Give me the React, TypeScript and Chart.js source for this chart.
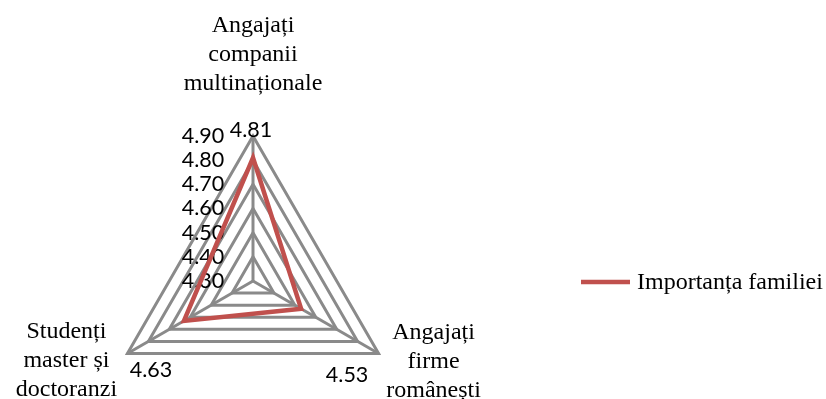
import React, { useEffect, useRef } from "react";
import { Chart, registerables, RadialLinearScale } from "chart.js";

Chart.register(...registerables);

// Axis categories, each split into the lines it is printed on
const categories: string[][] = [
  ["Angajați", "companii", "multinaționale"],
  ["Angajați", "firme", "românești"],
  ["Studenți", "master și", "doctoranzi"],
];
const seriesName = "Importanța familiei";
const familyImportance: number[] = [4.81, 4.53, 4.63];

const scaleMin = 4.3;
const scaleMax = 4.9;
const scaleStep = 0.1;

const GRID_COLOR = "#8a8a8a";
const SERIES_COLOR = "#C0504D";
const SERIF = "'Liberation Serif', 'Times New Roman', serif";
const SANS = "Lato, 'Open Sans', sans-serif";
const TICK_FONT_SIZE = 21.5;

const VIEW_W = 826;
const VIEW_H = 399;
const CANVAS_H = 440;

const TICK_SHIFT_X = -50;
const LINE_GAP = 29;

// Where each category caption sits relative to its outer vertex (first baseline)
const captionOffsets = [
  { dx: 0, dy: -104 },
  { dx: 55, dy: -14.5 },
  { dx: -61, dy: -15.5 },
];
// Where each value label sits relative to its outer vertex (text middle)
const valueOffsets = [
  { dx: -2, dy: -6 },
  { dx: -31.5, dy: 21.5 },
  { dx: 23.5, dy: 16.5 },
];

// Radial scale whose tick labels are printed to the left of the vertical axis,
// including the one at the centre
class SideTickRadialScale extends RadialLinearScale {
  static id = "radialSideTicks";
  static defaults = RadialLinearScale.defaults;
  drawLabels() {
    const ctx = this.ctx;
    const tickOpts: any = this.options.ticks;
    ctx.save();
    ctx.font = `${TICK_FONT_SIZE}px ${SANS}`;
    ctx.fillStyle = tickOpts.color;
    ctx.textAlign = "center";
    ctx.textBaseline = "middle";
    this.ticks.forEach((tick: any) => {
      const d = this.getDistanceFromCenterForValue(tick.value);
      ctx.fillText(tick.label, this.xCenter + TICK_SHIFT_X, this.yCenter - d);
    });
    ctx.restore();
  }
}
Chart.register(SideTickRadialScale);

const annotationsPlugin = {
  id: "radarAnnotations",
  afterDraw(chart: any) {
    const scale = chart.scales.r;
    const ctx: CanvasRenderingContext2D = chart.ctx;
    ctx.save();
    ctx.fillStyle = "#000";

    // category captions
    ctx.font = `24px ${SERIF}`;
    ctx.textAlign = "center";
    ctx.textBaseline = "alphabetic";
    categories.forEach((lines, i) => {
      const p = scale.getPointPosition(i, scale.drawingArea);
      const off = captionOffsets[i];
      lines.forEach((line, k) => {
        ctx.fillText(line, p.x + off.dx, p.y + off.dy + k * LINE_GAP);
      });
    });

    // value labels
    ctx.font = `${TICK_FONT_SIZE}px ${SANS}`;
    ctx.textBaseline = "middle";
    familyImportance.forEach((v, i) => {
      const p = scale.getPointPosition(i, scale.drawingArea);
      const off = valueOffsets[i];
      ctx.fillText(v.toFixed(2), p.x + off.dx, p.y + off.dy);
    });

    // legend
    const lx = 581;
    const ly = 282;
    ctx.strokeStyle = SERIES_COLOR;
    ctx.lineWidth = 4.5;
    ctx.lineCap = "butt";
    ctx.beginPath();
    ctx.moveTo(lx, ly);
    ctx.lineTo(lx + 49, ly);
    ctx.stroke();
    ctx.font = `24px ${SERIF}`;
    ctx.textAlign = "left";
    ctx.textBaseline = "alphabetic";
    ctx.fillText(seriesName, lx + 56, ly + 7);

    ctx.restore();
  },
};

export default function App() {
  const canvasRef = useRef<HTMLCanvasElement | null>(null);

  useEffect(() => {
    const canvas = canvasRef.current;
    if (!canvas) return;
    const chart = new Chart(canvas, {
      type: "radar",
      data: {
        labels: categories,
        datasets: [
          {
            label: seriesName,
            data: familyImportance,
            borderColor: SERIES_COLOR,
            backgroundColor: "transparent",
            borderWidth: 4.5,
            fill: false,
            pointRadius: 0,
            pointHoverRadius: 0,
            tension: 0,
          },
        ],
      },
      options: {
        responsive: false,
        maintainAspectRatio: false,
        animation: false,
        devicePixelRatio: 1,
        layout: { padding: { left: 41, right: 361, top: 124, bottom: 2 } },
        plugins: {
          legend: { display: false },
          tooltip: { enabled: false },
        },
        scales: {
          r: {
            type: "radialSideTicks",
            min: scaleMin,
            max: scaleMax,
            beginAtZero: true,
            ticks: {
              stepSize: scaleStep,
              showLabelBackdrop: false,
              color: "#000",
              font: { family: SANS, size: 21 },
              backdropPadding: 1.5,
              callback: (v: any) => Number(v).toFixed(2),
            },
            grid: { color: GRID_COLOR, lineWidth: 3 },
            angleLines: { color: GRID_COLOR, lineWidth: 3 },
            pointLabels: { display: false },
          },
        },
      } as any,
      plugins: [annotationsPlugin],
    });
    return () => chart.destroy();
  }, []);

  return (
    <div
      style={{
        position: "absolute",
        left: 0,
        top: 0,
        width: VIEW_W,
        height: VIEW_H,
        overflow: "hidden",
        background: "#fff",
      }}
    >
      <canvas
        ref={canvasRef}
        width={VIEW_W}
        height={CANVAS_H}
        style={{ display: "block", width: VIEW_W, height: CANVAS_H }}
      />
    </div>
  );
}
